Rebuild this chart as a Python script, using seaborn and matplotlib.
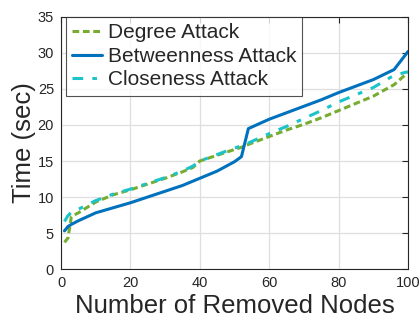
import numpy as np
import pandas as pd
import matplotlib
matplotlib.use("Agg")
import matplotlib.pyplot as plt
import seaborn as sns

# removed nodes (x) and run time in seconds for each attack
nodes = [1, 2, 3, 5, 10, 15, 20, 25, 30, 35, 38, 40, 45, 50, 52, 54,
         60, 65, 70, 75, 80, 85, 90, 96, 100]
degree_time = [3.7, 4.3, 7.3, 7.8, 9.3, 10.3, 11.0, 11.8, 12.6, 13.5, 14.1, 15.0,
               15.8, 16.6, 16.9, 17.3, 18.4, 19.3, 20.1, 21.0, 22.0, 23.0, 24.0,
               25.6, 27.3]
betweenness_time = [5.3, 5.9, 6.2, 6.7, 7.8, 8.5, 9.2, 10.0, 10.8, 11.6, 12.2, 12.6,
                    13.6, 14.9, 15.6, 19.5, 20.8, 21.7, 22.6, 23.5, 24.5, 25.4, 26.3,
                    27.7, 30.2]
closeness_time = [6.6, 7.4, 7.9, 8.3, 9.5, 10.4, 11.1, 11.9, 12.7, 13.6, 14.3, 15.0,
                  15.9, 16.8, 17.1, 17.5, 18.8, 19.8, 20.9, 22.0, 23.2, 24.2, 25.2,
                  26.9, 27.4]
labels = ["Degree Attack", "Betweenness Attack", "Closeness Attack"]
x_ticks = [0, 20, 40, 60, 80, 100]
y_ticks = [0, 5, 10, 15, 20, 25, 30, 35]

sns.set_style("white")
plt.rcParams["font.family"] = ["Liberation Sans", "DejaVu Sans"]

fig = plt.figure(figsize=(4.19, 3.26), dpi=100)
ax = fig.add_axes([0.1456, 0.1748, 0.8281, 0.7731])

styles = [
    dict(color="#77AC30", dashes=(2.2, 1.2)),
    dict(color="#0072BD", dashes=None),
    dict(color="#1CC3C8", dashes=(3.5, 3.0, 1.5, 3.0)),
]
series = [degree_time, betweenness_time, closeness_time]
for lab, vals, st in zip(labels, series, styles):
    df = pd.DataFrame({"nodes": nodes, "time": vals})
    sns.lineplot(data=df, x="nodes", y="time", ax=ax, color=st["color"],
                 linewidth=2.2, label=lab)
    if st["dashes"] is not None:
        ax.lines[-1].set_dashes(st["dashes"])

ax.set_xlim(0, 100)
ax.set_ylim(0, 35)
ax.set_xticks(x_ticks)
ax.set_yticks(y_ticks)
ax.grid(True, color="#DFDFDF", linewidth=0.9)
ax.set_axisbelow(True)
for s in ax.spines.values():
    s.set_color("#262626")
    s.set_linewidth(0.8)
ax.tick_params(direction="in", length=4, width=0.8, colors="#262626",
               labelsize=10.5, top=True, right=True, pad=5)
ax.set_xlabel("Number of Removed Nodes", fontsize=18.5, color="#262626", labelpad=3)
ax.set_ylabel("Time (sec)", fontsize=18.5, color="#262626", labelpad=1)

leg = ax.legend(loc="upper left", bbox_to_anchor=(0.014, 1.0), borderaxespad=0,
                fontsize=15, frameon=True, fancybox=False, handlelength=1.45,
                handletextpad=0.25, labelspacing=0.22, borderpad=0.3)
leg.get_frame().set_edgecolor("#262626")
leg.get_frame().set_linewidth(0.8)

fig.savefig("out.png", dpi=100)
